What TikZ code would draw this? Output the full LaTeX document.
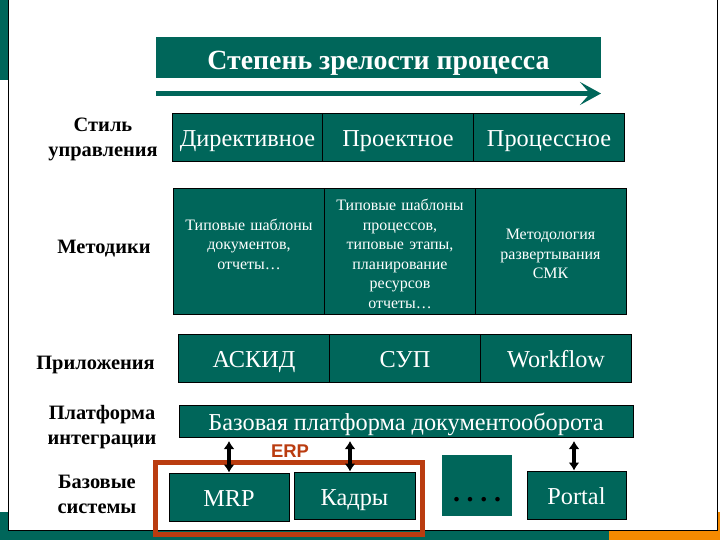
\documentclass[tikz,border=0pt]{standalone}
\usepackage{fontspec}
\setmainfont{Liberation Serif}
\newfontfamily\erpfont{Liberation Sans}
\usetikzlibrary{arrows.meta}
\definecolor{tealbox}{RGB}{0,102,90}
\definecolor{erpred}{RGB}{186,60,16}
\definecolor{barorange}{RGB}{245,138,0}
\tikzset{
  cellbox/.style={draw=black,line width=1pt,fill=tealbox,text=white,align=center,inner sep=0pt,font=\fontsize{16}{19.6}\selectfont,minimum width=151bp,minimum height=126bp,text width=145bp,execute at begin node={\rule{0pt}{17bp}}},
  linecell/.style={draw=black,line width=1pt,fill=tealbox,text=white,inner sep=0pt,font=\fontsize{24.4}{28}\selectfont,text height=19bp,text depth=0pt},
  sidelabel/.style={align=center,inner sep=0pt,font=\fontsize{20.5}{25}\selectfont\bfseries},
  link/.style={{Latex[length=8bp,width=11bp]}-{Latex[length=8bp,width=11bp]},line width=4.5bp}
}
\begin{document}
\begin{tikzpicture}
\useasboundingbox (0bp,0bp) rectangle (720bp,-540bp);

% backdrop
\fill[tealbox] (0bp,0bp) rectangle (8bp,-80bp);
\fill[tealbox] (0bp,-512bp) rectangle (609bp,-540bp);
\fill[barorange] (609bp,-512bp) rectangle (720bp,-540bp);
\draw[line width=1pt,fill=white] (8.5bp,0.5bp) rectangle (717bp,-530bp);

% title and arrow
\node (title) at (378.5bp,-57.5bp)[fill=tealbox,text=white,inner sep=0pt,minimum width=445bp,minimum height=41bp,text height=23bp,text depth=0pt,font=\fontsize{27.9}{28}\selectfont\bfseries] {Степень зрелости процесса};
\coordinate (arrowL) at (156bp,-93.5bp);
\coordinate (arrowR) at (601bp,-93.5bp);
\draw [-{Stealth[length=21bp,width=23bp,inset=10bp]},line width=5bp,color=tealbox] (arrowL) to (arrowR);

% row 1
\node (dir) at (247.5bp,-137bp)[linecell,minimum width=151bp,minimum height=48bp] {Директивное};
\node (proj) at (398bp,-137bp)[linecell,minimum width=151bp,minimum height=48bp] {Проектное};
\node (proc) at (549bp,-137bp)[linecell,minimum width=151bp,minimum height=48bp] {Процессное};

% row 2
\node (tmplA) at (249bp,-251bp)[cellbox] {Типовые шаблоны\\документов,\\отчеты…\\ \mbox{}};
\node (tmplB) at (400bp,-251bp)[cellbox] {Типовые шаблоны\\процессов,\\типовые этапы,\\планирование\\ресурсов\\отчеты…};
\node (smk) at (550.5bp,-251bp)[cellbox] {Методология\\развертывания\\СМК};

% row 3
\node (askid) at (254bp,-358bp)[linecell,minimum width=151bp,minimum height=48bp] {АСКИД};
\node (sup) at (405bp,-358bp)[linecell,minimum width=151bp,minimum height=48bp] {СУП};
\node (flow) at (556bp,-358bp)[linecell,minimum width=151bp,minimum height=48bp] {Workflow};

% platform
\node (base) at (406bp,-421bp)[linecell,minimum width=454bp,minimum height=32bp] {Базовая платформа документооборота};

% base systems
\node (mrp) at (229bp,-497bp)[linecell,minimum width=120bp,minimum height=48bp] {MRP};
\node (kadry) at (354.5bp,-495.5bp)[linecell,minimum width=121bp,minimum height=47bp] {Кадры};
\node (dots) at (477bp,-485.5bp)[fill=tealbox,text=black,inner sep=0pt,minimum width=70bp,minimum height=61bp,text height=31bp,text depth=0pt,font=\fontsize{28}{28}\selectfont\bfseries] {.\hspace{6.7bp}.\hspace{6.7bp}.\hspace{6.7bp}.};
\node (portal) at (576.5bp,-495bp)[linecell,minimum width=99bp,minimum height=48bp] {Portal};

% ERP frame
\draw [color=erpred,line width=5bp] (155.5bp,-462.5bp) rectangle (422.5bp,-534.5bp);
\node (erp) at (290bp,-451.5bp)[text=erpred,inner sep=0pt,font=\erpfont\fontsize{18.5}{18.5}\selectfont\bfseries] {ERP};

% links
\draw [link] (mrp.north) to (mrp.north |- 0,-441bp);
\draw [link] ([xshift=-4.5bp]kadry.north) to ([xshift=-4.5bp]kadry.north |- 0,-441bp);
\draw [link] ([xshift=-2.5bp]portal.north) to ([xshift=-2.5bp]portal.north |- 0,-441bp);

% left labels
\node (lblStyle) at (103bp,-139bp)[sidelabel] {Стиль\\управления};
\node (lblMeth) at (104bp,-249bp)[sidelabel] {Методики};
\node (lblApp) at (95.5bp,-365bp)[sidelabel] {Приложения};
\node (lblPlat) at (102bp,-427.5bp)[sidelabel] {Платформа\\интеграции};
\node (lblBase) at (97bp,-494bp)[sidelabel] {Базовые\\системы};
\end{tikzpicture}
\end{document}
